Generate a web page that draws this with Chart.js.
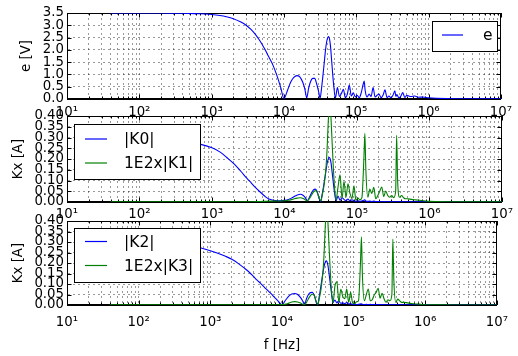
<!DOCTYPE html>
<html>
<head>
<meta charset="utf-8">
<script src="https://cdn.jsdelivr.net/npm/chart.js@4.4.1/dist/chart.umd.min.js"></script>
<style>
  html, body { margin: 0; padding: 0; background: #fff; }
  #wrap { position: relative; width: 518px; height: 356px; overflow: hidden; background: #fff; }
  #wrap canvas { position: absolute; left: 0; }
</style>
</head>
<body>
<div id="wrap">
  <canvas id="c1" width="518" height="125" style="top:0px;width:518px;height:125px"></canvas>
  <canvas id="c2" width="518" height="125" style="top:100px;width:518px;height:125px"></canvas>
  <canvas id="c3" width="518" height="151" style="top:205px;width:518px;height:151px"></canvas>
</div>
<script>
// frequencies in Hz (shared by all series)
const freq = [
  40, 60, 100, 150, 200, 300, 400, 500, 700, 1000,
  1300, 1600, 2000, 2500, 3000, 3500, 4000, 4500, 5000, 5500,
  6000, 7000, 8000, 9000, 10000,
  11340, 12470, 13710, 15070, 16570, 18210, 19400, 20660, 22000, 23440,
  24970, 26590, 28320, 30170, 31620, 33150, 35310, 37610, 38820, 40060,
  41340, 42670, 44040, 45450, 48410, 51560,
  54900, 58500, 62300, 66340, 70700, 75300, 80200, 85400, 90970, 96900,
  103200, 109900, 117100, 124700, 128700, 132800, 141500, 150700, 160500, 171000,
  182100, 194000, 206600, 220100, 234400, 249700, 266000, 283300, 301800, 321400,
  342300, 353200, 364500, 388200, 413500, 440500, 469200, 499700,
  566900, 643000, 729500, 827600, 1000000, 1287000, 2419000, 10000000
];

// e [V]
const eVolt = [
  3.50, 3.50, 3.50, 3.50, 3.50, 3.49, 3.49, 3.48, 3.47, 3.44,
  3.40, 3.35, 3.27, 3.14, 3.00, 2.83, 2.64, 2.43, 2.22, 2.00,
  1.78, 1.40, 0.95, 0.48, 0.02,
  0.40, 0.70, 0.88, 0.95, 0.90, 0.68, 0.42, 0.05, 0.45, 0.72,
  0.84, 0.84, 0.62, 0.30, 0.03, 0.45, 1.20, 2.00, 2.30, 2.48,
  2.54, 2.45, 2.15, 1.65, 0.65, 0.05,
  0.47, 0.10, 0.22, 0.39, 0.05, 0.20, 0.57, 0.12, 0.25, 0.08,
  0.15, 0.05, 0.25, 0.60, 0.73, 0.35, 0.08, 0.20, 0.10, 0.47,
  0.08, 0.15, 0.20, 0.05, 0.15, 0.37, 0.06, 0.12, 0.05, 0.15,
  0.33, 0.10, 0.18, 0.05, 0.12, 0.26, 0.06, 0.15,
  0.10, 0.12, 0.07, 0.08, 0.05, 0.03, 0.01, 0.01
];

// |K0| [A]
const k0 = [
  0.275, 0.275, 0.275, 0.275, 0.275, 0.274, 0.273, 0.272, 0.268, 0.252,
  0.232, 0.207, 0.178, 0.143, 0.112, 0.088, 0.067, 0.050, 0.036, 0.024,
  0.015, 0.008, 0.006, 0.006, 0.008,
  0.012, 0.018, 0.026, 0.033, 0.036, 0.030, 0.020, 0.006, 0.020, 0.040,
  0.055, 0.060, 0.048, 0.015, 0.002, 0.035, 0.090, 0.150, 0.180, 0.198,
  0.208, 0.202, 0.180, 0.140, 0.060, 0.005,
  0.028, 0.008, 0.020, 0.012, 0.006, 0.014, 0.005, 0.010, 0.006, 0.003,
  0.006, 0.003, 0.005, 0.008, 0.010, 0.004, 0.003, 0.004, 0.002, 0.004,
  0.002, 0.002, 0.002, 0.001, 0.002, 0.002, 0.001, 0.001, 0.001, 0.001,
  0.001, 0.002, 0.001, 0.001, 0.001, 0.001, 0.001, 0.001,
  0.001, 0.001, 0.001, 0.001, 0.001, 0, 0, 0
];

// 1E2 x |K1| [A]
const k1 = [
  0.001, 0.001, 0.001, 0.001, 0.001, 0.001, 0.001, 0.001, 0.001, 0.001,
  0.001, 0.001, 0.001, 0.001, 0.001, 0.001, 0.002, 0.002, 0.003, 0.003,
  0.004, 0.004, 0.005, 0.005, 0.006,
  0.008, 0.011, 0.015, 0.018, 0.020, 0.016, 0.010, 0.005, 0.015, 0.030,
  0.045, 0.053, 0.045, 0.018, 0.005, 0.030, 0.080, 0.170, 0.250, 0.360,
  0.440, 0.460, 0.380, 0.280, 0.100, 0.010,
  0.070, 0.126, 0.017, 0.095, 0.022, 0.085, 0.040, 0.016, 0.075, 0.008,
  0.018, 0.010, 0.020, 0.200, 0.320, 0.150, 0.022, 0.060, 0.040, 0.068,
  0.015, 0.030, 0.050, 0.070, 0.025, 0.051, 0.030, 0.022, 0.030, 0.020,
  0.050, 0.310, 0.100, 0.022, 0.030, 0.020, 0.015, 0.015,
  0.012, 0.010, 0.008, 0.006, 0.003, 0.002, 0.001, 0.001
];

// |K2| [A]
const k2 = [
  0.285, 0.285, 0.285, 0.285, 0.285, 0.285, 0.285, 0.283, 0.274, 0.258,
  0.245, 0.233, 0.218, 0.196, 0.175, 0.156, 0.136, 0.118, 0.104, 0.090,
  0.077, 0.055, 0.034, 0.016, 0.001,
  0.025, 0.042, 0.052, 0.055, 0.050, 0.035, 0.020, 0.002, 0.030, 0.050,
  0.059, 0.060, 0.045, 0.012, 0.002, 0.040, 0.100, 0.160, 0.185, 0.202,
  0.210, 0.205, 0.185, 0.150, 0.075, 0.012,
  0.024, 0.010, 0.019, 0.008, 0.010, 0.006, 0.012, 0.005, 0.006, 0.003,
  0.004, 0.002, 0.003, 0.005, 0.006, 0.003, 0.002, 0.003, 0.002, 0.003,
  0.002, 0.002, 0.002, 0.001, 0.002, 0.002, 0.001, 0.001, 0.001, 0.001,
  0.001, 0.002, 0.001, 0.001, 0.001, 0.001, 0.001, 0.001,
  0.001, 0.001, 0.001, 0.001, 0.001, 0, 0, 0
];

// 1E2 x |K3| [A]
const k3 = [
  0.001, 0.001, 0.001, 0.001, 0.001, 0.001, 0.001, 0.001, 0.001, 0.001,
  0.001, 0.001, 0.001, 0.001, 0.001, 0.001, 0.001, 0.001, 0.001, 0.001,
  0.001, 0.001, 0.001, 0.001, 0.002,
  0.004, 0.009, 0.014, 0.016, 0.014, 0.009, 0.004, 0.001, 0.012, 0.030,
  0.045, 0.051, 0.045, 0.015, 0.003, 0.030, 0.080, 0.170, 0.250, 0.360,
  0.440, 0.460, 0.380, 0.280, 0.100, 0.010,
  0.090, 0.110, 0.013, 0.075, 0.040, 0.030, 0.076, 0.013, 0.060, 0.010,
  0.006, 0.015, 0.020, 0.200, 0.325, 0.140, 0.020, 0.050, 0.076, 0.020,
  0.025, 0.048, 0.060, 0.080, 0.032, 0.056, 0.030, 0.013, 0.025, 0.020,
  0.050, 0.314, 0.120, 0.013, 0.028, 0.020, 0.012, 0.013,
  0.010, 0.007, 0.005, 0.004, 0.001, 0.001, 0, 0
];

// x axis decades (10^1 .. 10^7)
const decades = [1, 2, 3, 4, 5, 6, 7];

(function () {
  'use strict';

  Chart.defaults.font.family = "'DejaVu Sans', sans-serif";
  Chart.defaults.font.size = 13.3;
  Chart.defaults.color = '#000';

  const sup = { 1: '\u00b9', 2: '\u00b2', 3: '\u00b3', 4: '\u2074', 5: '\u2075', 6: '\u2076', 7: '\u2077' };

  // ticks at 1..9 x 10^n, like a matplotlib log axis with minor ticks
  const xTickValues = [];
  decades.forEach(function (d) {
    if (d === decades[decades.length - 1]) { xTickValues.push(Math.pow(10, d)); return; }
    for (let m = 1; m <= 9; m++) xTickValues.push(m * Math.pow(10, d));
  });

  function isDecade(v) {
    const p = Math.log10(v);
    return Math.abs(p - Math.round(p)) < 1e-9;
  }
  function decadeLabel(v) {
    return isDecade(v) ? '10' + sup[Math.round(Math.log10(v))] : '';
  }
  function pts(ys) {
    return freq.map(function (f, i) { return { x: f, y: ys[i] }; });
  }

  const gridColor = 'rgba(0,0,0,0.4)';

  function makeChart(id, o) {
    // white axes face, inward ticks + frame, boxed legend inside the axes
    const axesPlugin = {
      id: 'axesFrame',
      beforeDraw: function (chart) {
        const a = chart.chartArea, ctx = chart.ctx;
        ctx.save();
        ctx.fillStyle = '#fff';
        ctx.fillRect(a.left, a.top, a.right - a.left, a.bottom - a.top);
        ctx.restore();
      },
      beforeDatasetsDraw: function (chart) {
        const a = chart.chartArea, ctx = chart.ctx;
        const xs = chart.scales.x, ys = chart.scales.y;
        ctx.save();
        ctx.strokeStyle = '#000';
        ctx.lineWidth = 1;
        ctx.beginPath();
        xs.ticks.forEach(function (t) {
          const px = Math.round(xs.getPixelForValue(t.value)) + 0.5;
          const len = isDecade(t.value) ? 4.5 : 2.5;
          ctx.moveTo(px, a.bottom); ctx.lineTo(px, a.bottom - len);
          ctx.moveTo(px, a.top); ctx.lineTo(px, a.top + len);
        });
        ys.ticks.forEach(function (t) {
          const py = Math.round(ys.getPixelForValue(t.value)) + 0.5;
          ctx.moveTo(a.left, py); ctx.lineTo(a.left + 4.5, py);
          ctx.moveTo(a.right, py); ctx.lineTo(a.right - 4.5, py);
        });
        ctx.stroke();
        ctx.strokeRect(Math.round(a.left) + 0.5, Math.round(a.top) + 0.5,
          Math.round(a.right - a.left) - 1, Math.round(a.bottom - a.top) - 1);
        ctx.restore();
      },
      afterDraw: function (chart) {
        const lg = o.legend;
        const a = chart.chartArea, ctx = chart.ctx;
        const bx = Math.round(a.left + lg.x), by = Math.round(a.top + lg.y);
        ctx.save();
        ctx.fillStyle = '#fff';
        ctx.fillRect(bx, by, lg.w, lg.h);
        ctx.strokeStyle = '#000';
        ctx.lineWidth = 1;
        ctx.strokeRect(bx + 0.5, by + 0.5, lg.w, lg.h);
        ctx.font = "15.5px 'DejaVu Sans'";
        ctx.textBaseline = 'middle';
        ctx.fillStyle = '#000';
        chart.data.datasets.forEach(function (ds, i) {
          const yy = by + lg.rows[i];
          ctx.strokeStyle = ds.borderColor;
          ctx.lineWidth = 1.2;
          ctx.beginPath();
          ctx.moveTo(bx + lg.line[0], yy);
          ctx.lineTo(bx + lg.line[1], yy);
          ctx.stroke();
          ctx.fillText(ds.label, bx + lg.text, yy + 1);
        });
        ctx.restore();
      }
    };

    return new Chart(document.getElementById(id), {
      type: 'line',
      data: { datasets: o.datasets },
      options: {
        responsive: false,
        animation: false,
        devicePixelRatio: 1,
        layout: { padding: { top: o.top, left: o.left, right: 13, bottom: 0 } },
        plugins: { legend: { display: false }, tooltip: { enabled: false } },
        elements: {
          point: { radius: 0 },
          line: { borderWidth: 1.1, cubicInterpolationMode: 'monotone', fill: false }
        },
        scales: {
          x: {
            type: 'logarithmic',
            min: 10,
            max: 1e7,
            afterBuildTicks: function (s) {
              s.ticks = xTickValues.map(function (v) { return { value: v }; });
            },
            afterFit: function (s) { s.height = o.xHeight; },
            ticks: { autoSkip: false, maxRotation: 0, padding: o.xPad, callback: decadeLabel },
            grid: { color: gridColor, lineWidth: 1, drawTicks: false },
            border: { color: '#000', width: 1, dash: [2, 3] },
            title: { display: !!o.xTitle, text: o.xTitle || '', padding: { top: 0, bottom: 2 } }
          },
          y: {
            min: 0,
            max: o.yMax,
            afterFit: function (s) { s.width = o.yWidth; },
            ticks: {
              stepSize: o.yStep,
              autoSkip: false,
              padding: 3,
              callback: function (v) { return Number(v).toFixed(o.yDigits); }
            },
            grid: { color: gridColor, lineWidth: 1, drawTicks: false },
            border: { color: '#000', width: 1, dash: [2, 3] },
            title: { display: true, text: o.yTitle, padding: { top: 0, bottom: 0 } }
          }
        }
      },
      plugins: [axesPlugin]
    });
  }

  // panel 1: e
  makeChart('c1', {
    datasets: [{ label: 'e', data: pts(eVolt), borderColor: '#0000ff' }],
    top: 13, left: 18.5, yWidth: 48.5, xHeight: 26, xPad: 6,
    yMax: 3.5, yStep: 0.5, yDigits: 1, yTitle: 'e [V]',
    legend: { x: 365, y: 8, w: 65, h: 30, line: [10, 31], text: 51, rows: [14] }
  });

  // panel 2: K0, K1
  makeChart('c2', {
    datasets: [
      { label: '|K0|', data: pts(k0), borderColor: '#0000ff', order: 1 },
      { label: '1E2x|K1|', data: pts(k1), borderColor: '#008000', order: 0 }
    ],
    top: 16, left: 10.5, yWidth: 56.5, xHeight: 23, xPad: 5,
    yMax: 0.4, yStep: 0.05, yDigits: 2, yTitle: 'Kx [A]',
    legend: { x: 7, y: 8, w: 126, h: 55, line: [11, 33], text: 50, rows: [15, 39] }
  });

  // panel 3: K2, K3
  makeChart('c3', {
    datasets: [
      { label: '|K2|', data: pts(k2), borderColor: '#0000ff', order: 1 },
      { label: '1E2x|K3|', data: pts(k3), borderColor: '#008000', order: 0 }
    ],
    top: 16, left: 10.5, yWidth: 56.5, xHeight: 51, xPad: 10,
    yMax: 0.4, yStep: 0.05, yDigits: 2, yTitle: 'Kx [A]', xTitle: 'f [Hz]',
    legend: { x: 7, y: 7, w: 126, h: 54, line: [11, 33], text: 50, rows: [13.5, 37.5] }
  });
})();
</script>
</body>
</html>
